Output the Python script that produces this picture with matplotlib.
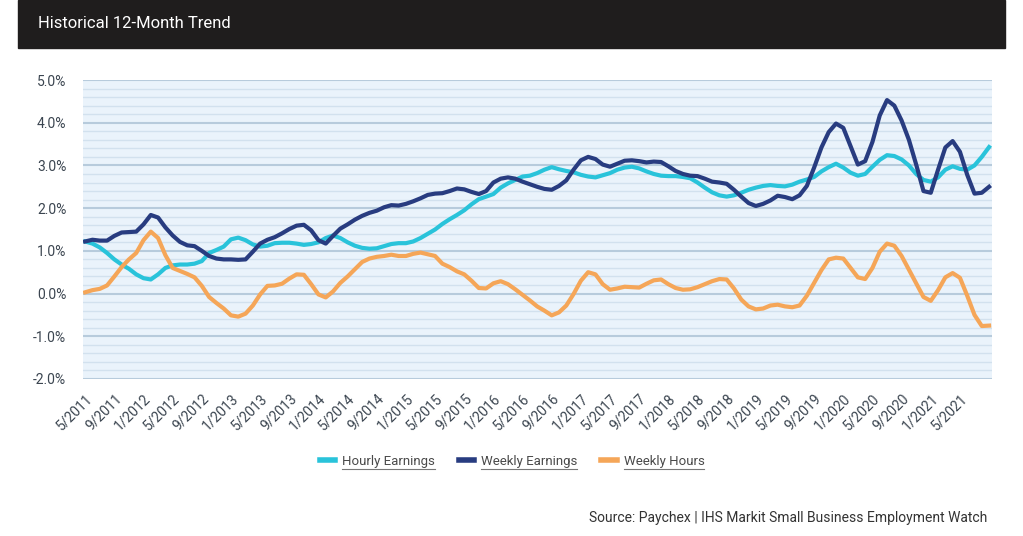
import numpy as np
import matplotlib.pyplot as plt
from matplotlib.patches import Rectangle
from matplotlib.lines import Line2D

plt.rcParams['font.family'] = ['Roboto', 'DejaVu Sans']

# monthly, 5/2011 .. 9/2021
start_year, start_month = 2011, 5

hourly = [1.22, 1.17, 1.08, 0.95, 0.80, 0.68, 0.58, 0.45, 0.36, 0.33, 0.45, 0.60, 0.66, 0.68, 0.68, 0.70, 0.76, 0.95, 1.02, 1.10,
          1.27, 1.31, 1.25, 1.15, 1.10, 1.12, 1.18, 1.19, 1.19, 1.17, 1.14, 1.16, 1.20, 1.30, 1.36, 1.30, 1.20, 1.12, 1.07, 1.05, 1.06,
          1.11, 1.16, 1.18, 1.18, 1.22, 1.30, 1.40, 1.50, 1.63, 1.74, 1.84, 1.95, 2.09, 2.21, 2.27, 2.33, 2.48, 2.58, 2.66, 2.74, 2.76,
          2.82, 2.90, 2.96, 2.91, 2.87, 2.84, 2.78, 2.74, 2.72, 2.77, 2.82, 2.90, 2.95, 2.97, 2.93, 2.86, 2.80, 2.76, 2.75, 2.75,
          2.73, 2.70, 2.60, 2.48, 2.37, 2.30, 2.27, 2.30, 2.36, 2.43, 2.48, 2.52, 2.54, 2.52, 2.51, 2.55, 2.62, 2.67, 2.73, 2.86, 2.96,
          3.04, 2.95, 2.83, 2.76, 2.80, 2.97, 3.13, 3.24, 3.22, 3.14, 3.00, 2.80, 2.66, 2.62, 2.72, 2.90, 2.98, 2.92, 2.90, 3.00, 3.20, 3.43]

weekly_earn = [1.22, 1.26, 1.24, 1.24, 1.35, 1.43, 1.44, 1.45, 1.62, 1.84, 1.78, 1.55, 1.36, 1.21, 1.13, 1.11, 1.00, 0.88, 0.82, 0.80,
               0.80, 0.79, 0.80, 0.98, 1.17, 1.26, 1.32, 1.41, 1.51, 1.59, 1.61, 1.48, 1.25, 1.17, 1.35, 1.52, 1.62, 1.73, 1.82, 1.89, 1.94,
               2.02, 2.07, 2.06, 2.10, 2.16, 2.23, 2.31, 2.34, 2.35, 2.40, 2.46, 2.44, 2.38, 2.33, 2.40, 2.60, 2.69, 2.72, 2.69, 2.62, 2.56,
               2.50, 2.45, 2.43, 2.52, 2.65, 2.90, 3.12, 3.20, 3.15, 3.02, 2.97, 3.04, 3.11, 3.12, 3.10, 3.07, 3.09, 3.08, 2.98, 2.87,
               2.80, 2.76, 2.75, 2.69, 2.62, 2.60, 2.57, 2.43, 2.27, 2.12, 2.05, 2.10, 2.18, 2.29, 2.26, 2.21, 2.30, 2.52, 2.95, 3.42, 3.78,
               3.98, 3.88, 3.45, 3.02, 3.10, 3.55, 4.17, 4.53, 4.40, 4.05, 3.60, 3.02, 2.40, 2.36, 2.90, 3.42, 3.57, 3.32, 2.78, 2.34, 2.36, 2.50]

weekly_hours = [0.03, 0.08, 0.11, 0.19, 0.40, 0.62, 0.80, 0.95, 1.25, 1.45, 1.30, 0.90, 0.60, 0.53, 0.46, 0.38, 0.18, -0.08, -0.22, -0.35,
                -0.51, -0.54, -0.47, -0.28, -0.02, 0.18, 0.19, 0.23, 0.35, 0.45, 0.44, 0.22, -0.02, -0.09, 0.05, 0.25, 0.40, 0.57, 0.74, 0.82, 0.86,
                0.88, 0.91, 0.88, 0.88, 0.93, 0.96, 0.92, 0.88, 0.70, 0.62, 0.52, 0.45, 0.30, 0.13, 0.12, 0.24, 0.29, 0.22, 0.10, -0.03, -0.16,
                -0.30, -0.40, -0.51, -0.44, -0.28, -0.01, 0.30, 0.50, 0.45, 0.22, 0.09, 0.12, 0.16, 0.15, 0.14, 0.23, 0.31, 0.33, 0.22, 0.13,
                0.09, 0.10, 0.15, 0.22, 0.29, 0.34, 0.33, 0.12, -0.14, -0.30, -0.37, -0.35, -0.28, -0.26, -0.30, -0.32, -0.28, -0.05, 0.25, 0.55, 0.80,
                0.84, 0.82, 0.60, 0.38, 0.34, 0.60, 0.98, 1.17, 1.12, 0.88, 0.56, 0.24, -0.08, -0.17, 0.08, 0.38, 0.48, 0.37, -0.05, -0.50, -0.76, -0.75]

labels = []
for i in range(len(hourly)):
    mo = (start_month - 1 + i) % 12 + 1
    yr = start_year + (start_month - 1 + i) // 12
    labels.append('{}/{}'.format(mo, yr))

x = np.arange(len(hourly))
c_hourly = '#29c3da'
c_weekly = '#283c80'
c_hours = '#f5a658'
txt = '#3b4550'

fig = plt.figure(figsize=(10.23, 5.36), dpi=100)
fig.patches.append(Rectangle((18 / 1023, 1 - 48 / 536), 987 / 1023, 48 / 536,
                             transform=fig.transFigure, color='#1f1d1d', zorder=0))
fig.text(38 / 1023, 1 - 24 / 536, 'Historical 12-Month Trend', color='white',
         fontsize=12, va='center', ha='left')

ax = fig.add_axes([83 / 1023, 1 - 379 / 536, 909 / 1023, 299 / 536])
ax.set_facecolor('#eaf3fb')
for s in ax.spines.values():
    s.set_visible(False)

ax.set_ylim(-2.0, 5.0)
ax.set_xlim(-0.3, 124.4)
for v in np.arange(-2.0, 5.01, 0.2):
    if abs(v - round(v)) < 1e-6:
        ax.axhline(v, color='#b7cbdc', lw=1.5, zorder=1)
    else:
        ax.axhline(v, color='#d2e1ee', lw=1.0, zorder=1)

ax.plot(x, hourly, color=c_hourly, lw=3, solid_joinstyle='round', zorder=3, label='Hourly Earnings')
ax.plot(x, weekly_earn, color=c_weekly, lw=3, solid_joinstyle='round', zorder=3, label='Weekly Earnings')
ax.plot(x, weekly_hours, color=c_hours, lw=3, solid_joinstyle='round', zorder=3, label='Weekly Hours')

ax.set_yticks(np.arange(-2, 6, 1))
ax.set_yticklabels(['{:.1f}%'.format(v) for v in np.arange(-2, 6, 1)])
ax.set_xticks(x[:121:4])
ax.set_xticklabels(labels[:121:4], rotation=45, ha='right', va='top', rotation_mode='anchor')
ax.tick_params(axis='y', length=0, pad=12, labelsize=10, labelcolor=txt)
ax.tick_params(axis='x', length=0, pad=9, labelsize=10, labelcolor=txt)

leg = ax.legend(loc='center', bbox_to_anchor=(512 / 1023, 1 - 461 / 536), bbox_transform=fig.transFigure,
                ncol=3, frameon=False, fontsize=9.5, handlelength=1.2, handletextpad=0.5,
                columnspacing=1.8)
for t in leg.get_texts():
    t.set_color('#4a4a4a')
for h in leg.get_lines():
    h.set_linewidth(4)

fig.text(987 / 1023, 1 - 518 / 536, 'Source: Paychex | IHS Markit Small Business Employment Watch',
         ha='right', va='center', fontsize=10, color='#333333')

# underline legend labels
fig.canvas.draw()
for t in leg.get_texts():
    bb = t.get_window_extent()
    yy = bb.y0 - 1
    fig.lines.append(Line2D([bb.x0, bb.x1], [yy, yy], transform=None, color='#777777', lw=0.8))

fig.savefig('out.png', dpi=100)
